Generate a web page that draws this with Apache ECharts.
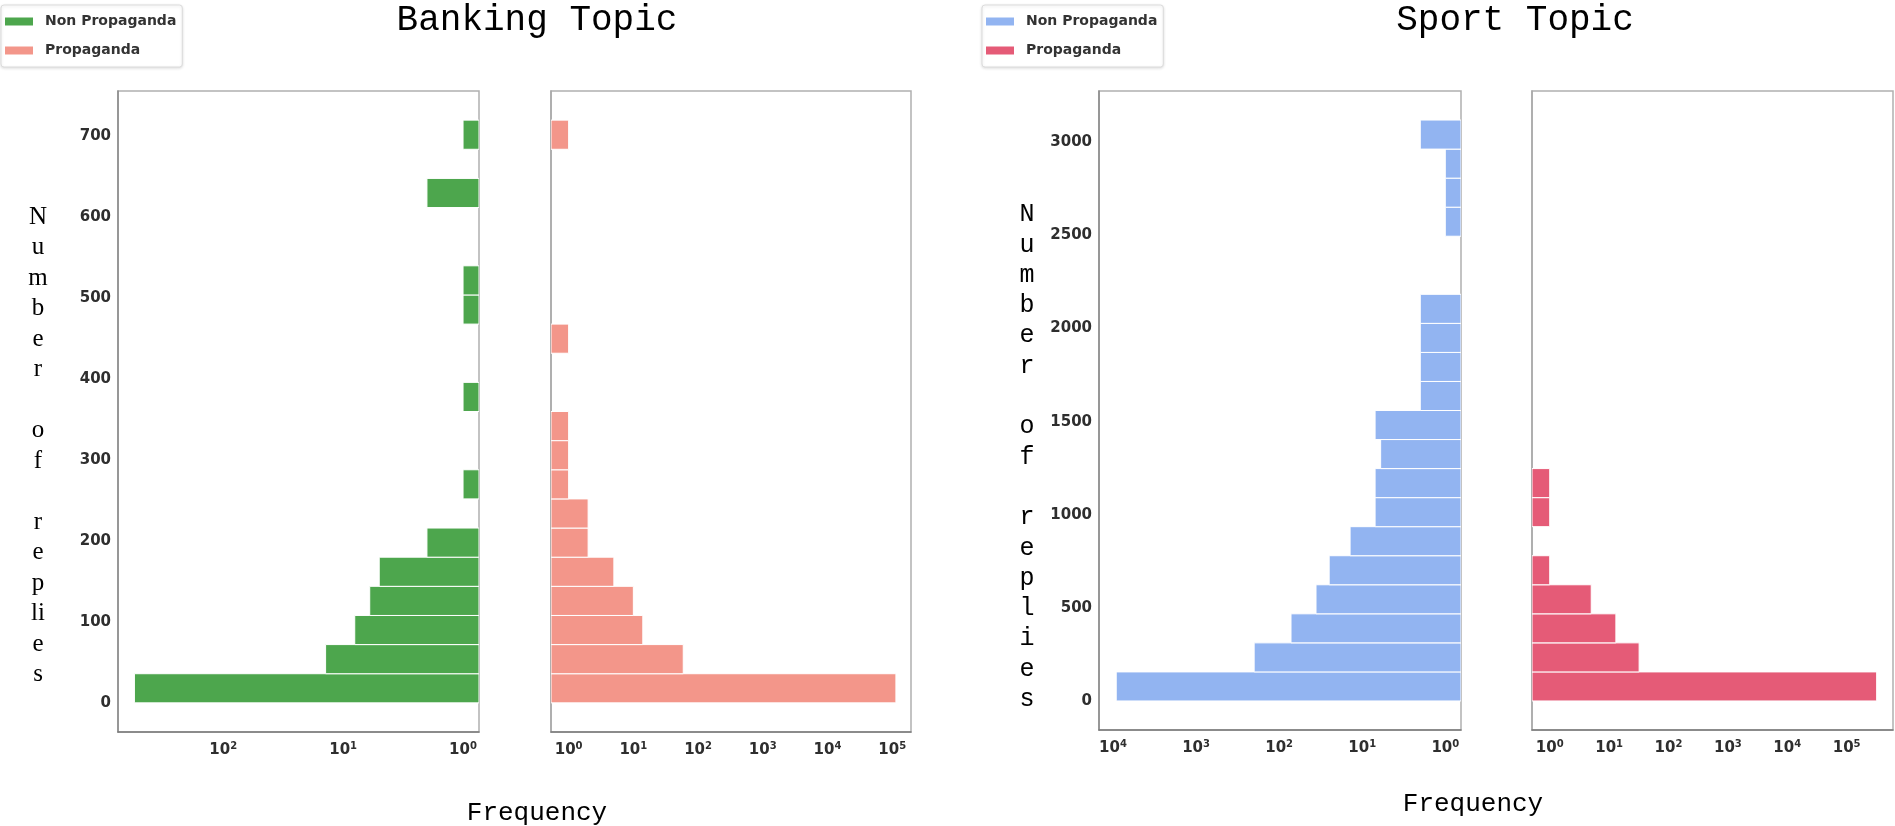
<!DOCTYPE html>
<html>
<head>
<meta charset="utf-8">
<script src="https://cdn.jsdelivr.net/npm/echarts@6/dist/echarts.min.js"></script>
<style>
html,body{margin:0;padding:0;background:#fff;}
#chart{width:1895px;height:826px;}
</style>
</head>
<body>
<div id="chart"></div>
<script>
// ---- data (histogram bins: number of replies -> frequency) ----
const bankingBinWidth = 36;      // bins cover 0..720
const bankingNonPropaganda = [550, 14, 8, 6, 5, 2, 0, 1, 0, 0, 1, 0, 0, 1, 1, 0, 0, 2, 0, 1];
const bankingPropaganda    = [114000, 59, 14, 10, 5, 2, 2, 1, 1, 1, 0, 0, 1, 0, 0, 0, 0, 0, 0, 1];
const sportBinWidth = 156;       // bins cover 0..3120
const sportNonPropaganda = [9150, 200, 72, 36, 25, 14, 7, 7, 6, 7, 2, 2, 2, 2, 0, 0, 1, 1, 1, 2];
const sportPropaganda    = [320000, 32, 13, 5, 1, 0, 1, 1, 0, 0, 0, 0, 0, 0, 0, 0, 0, 0, 0, 0];
const bankingYTicks = [0, 100, 200, 300, 400, 500, 600, 700];
const sportYTicks = [0, 500, 1000, 1500, 2000, 2500, 3000];
const seriesNames = ['Non Propaganda', 'Propaganda'];
const titles = ['Banking Topic', 'Sport Topic'];
const xAxisName = 'Frequency';
const bankingYName = ['N','u','m','b','e','r','','o','f','','r','e','p','li','e','s'];
const sportYName = ['N','u','m','b','e','r','','o','f','','r','e','p','l','i','e','s'];

// ---- helpers ----
function toBins(values, w) {
  return values.map((v, i) => [i * w, (i + 1) * w, v]).filter(d => d[2] > 0);
}
function barRenderer(base) {
  return function (params, api) {
    const a = api.coord([base, api.value(0)]);
    const b = api.coord([api.value(2), api.value(1)]);
    return {
      type: 'rect',
      shape: {
        x: Math.min(a[0], b[0]), y: Math.min(a[1], b[1]),
        width: Math.abs(b[0] - a[0]), height: Math.abs(b[1] - a[1])
      },
      style: api.style({ stroke: '#ffffff', lineWidth: 1 })
    };
  };
}
const labelFont = 'DejaVu Sans';
const tickColor = '#2e2e2e';
function logLabel(v) {
  const l = Math.log10(v);
  const e = Math.round(l);
  if (Math.abs(l - e) > 1e-6) return '';
  return '{b|10}{s|' + e + '}';
}
const logRich = {
  b: { fontSize: 15, fontWeight: 'bold', fontFamily: labelFont, color: tickColor },
  s: { fontSize: 10, fontWeight: 'bold', fontFamily: labelFont, color: tickColor, padding: [0, 0, 9, 0] }
};

const xRanges = [
  { min: 0.736, max: 754, inverse: true },
  { min: 0.534, max: 195000, inverse: false },
  { min: 0.647, max: 14750, inverse: true },
  { min: 0.503, max: 603000, inverse: false }
];
const grids = [
  { left: 118, top: 91, width: 361, height: 641 },
  { left: 551, top: 91, width: 360, height: 641 },
  { left: 1099, top: 91, width: 362, height: 639 },
  { left: 1532, top: 91, width: 361, height: 639 }
];
const colors = ['#4da64d', '#f3968a', '#92b4f1', '#e55b77'];

const xAxes = xRanges.map((r, i) => ({
  type: 'log', logBase: 10, gridIndex: i, min: r.min, max: r.max, inverse: r.inverse,
  axisLine: { show: true, onZero: false, lineStyle: { color: '#7a7a7a', width: 1.5 } },
  axisTick: { show: false }, splitLine: { show: false }, minorTick: { show: false },
  axisLabel: { formatter: logLabel, rich: logRich, margin: 9, hideOverlap: false }
}));
function yAxisFor(i, min, max, split, step, showLabels) {
  return {
    type: 'value', gridIndex: i, min: min, max: max, splitNumber: split,
    axisLine: { show: true, onZero: false, lineStyle: { color: showLabels ? '#888' : '#a8a8a8', width: 1.5 } },
    axisTick: { show: false }, splitLine: { show: false },
    axisLabel: {
      show: showLabels, margin: 7,
      fontFamily: labelFont, fontWeight: 'bold', fontSize: 15, color: tickColor,
      formatter: v => (Math.abs(v % step) < 1e-9 && v >= 0) ? String(v) : ''
    }
  };
}
const yAxes = [
  yAxisFor(0, -36, 756, 8, bankingYTicks[1] - bankingYTicks[0], true),
  yAxisFor(1, -36, 756, 8, bankingYTicks[1] - bankingYTicks[0], false),
  yAxisFor(2, -156, 3276, 7, sportYTicks[1] - sportYTicks[0], true),
  yAxisFor(3, -156, 3276, 7, sportYTicks[1] - sportYTicks[0], false)
];

const seriesData = [
  ['Banking ' + seriesNames[0], bankingNonPropaganda, bankingBinWidth],
  ['Banking ' + seriesNames[1], bankingPropaganda, bankingBinWidth],
  ['Sport ' + seriesNames[0], sportNonPropaganda, sportBinWidth],
  ['Sport ' + seriesNames[1], sportPropaganda, sportBinWidth]
];
const series = seriesData.map((s, i) => ({
  type: 'custom', name: s[0], xAxisIndex: i, yAxisIndex: i,
  renderItem: barRenderer(xRanges[i].min),
  itemStyle: { color: colors[i] },
  encode: { x: 2, y: [0, 1] },
  data: toBins(s[1], s[2]),
  clip: true
}));

function legendFor(prefix, left) {
  return {
    data: seriesNames.map(n => prefix + n),
    formatter: n => n.replace(/^(Banking|Sport) /, ''),
    orient: 'vertical', left: left, top: 5, icon: 'rect',
    itemWidth: 28, itemHeight: 8, itemGap: 12,
    padding: [8, 6, 8, 4],
    backgroundColor: '#fff', borderColor: '#dcdcdc', borderWidth: 1, borderRadius: 3,
    shadowBlur: 3, shadowColor: 'rgba(0,0,0,0.12)', shadowOffsetY: 1,
    textStyle: { fontFamily: labelFont, fontWeight: 'bold', fontSize: 14, color: '#333', lineHeight: 17, padding: [0, 0, 0, 7] }
  };
}

const graphics = [
  { type: 'text', x: 537, y: 20, style: { text: titles[0], font: '36px "Liberation Mono"', fill: '#000', align: 'center', verticalAlign: 'middle' } },
  { type: 'text', x: 1515, y: 20, style: { text: titles[1], font: '36px "Liberation Mono"', fill: '#000', align: 'center', verticalAlign: 'middle' } },
  { type: 'text', x: 537, y: 813, style: { text: xAxisName, font: '26px "Liberation Mono"', fill: '#000', align: 'center', verticalAlign: 'middle' } },
  { type: 'text', x: 1473, y: 804, style: { text: xAxisName, font: '26px "Liberation Mono"', fill: '#000', align: 'center', verticalAlign: 'middle' } },
  { type: 'text', x: 38, y: 446, style: { text: bankingYName.join('\n'), font: '25px "Liberation Serif"', lineHeight: 30.5, fill: '#000', align: 'center', verticalAlign: 'middle' } },
  { type: 'text', x: 1027, y: 457, style: { text: sportYName.join('\n'), font: '25px "Liberation Mono"', lineHeight: 30.3, fill: '#000', align: 'center', verticalAlign: 'middle' } }
];

const chart = echarts.init(document.getElementById('chart'), null, { renderer: 'canvas' });
chart.setOption({
  backgroundColor: '#fff',
  animation: false,
  grid: grids.map(g => Object.assign({ show: true, borderColor: '#b0b0b0', borderWidth: 1.5, containLabel: false, outerBoundsMode: 'none' }, g)),
  xAxis: xAxes,
  yAxis: yAxes,
  legend: [legendFor('Banking ', 1), legendFor('Sport ', 982)],
  series: series,
  graphic: graphics
});
</script>
</body>
</html>
